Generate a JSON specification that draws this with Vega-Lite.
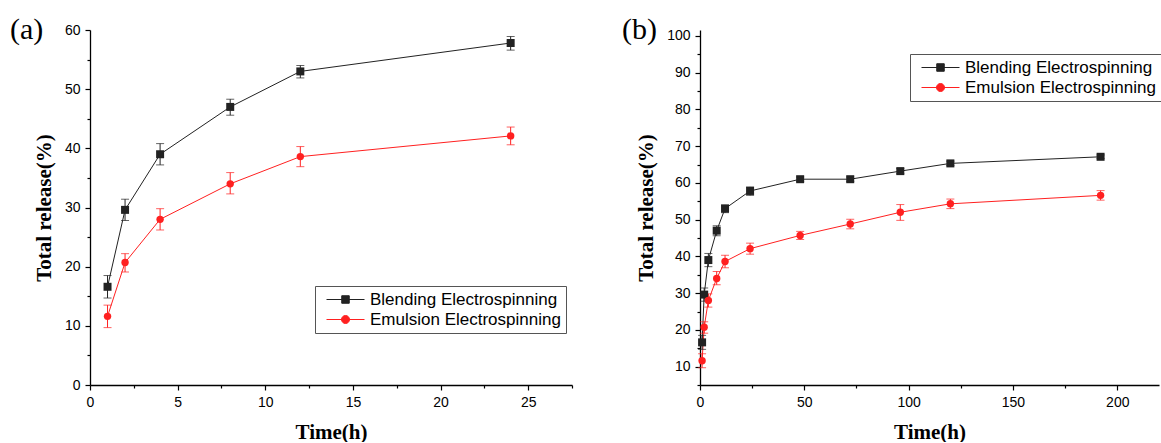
{
  "$schema": "https://vega.github.io/schema/vega-lite/v6.json",
  "padding": {"left": 10, "top": 14, "right": 0, "bottom": 0},
  "background": "white",
  "columns": 2,
  "align": "none",
  "spacing": 49,
  "datasets": {
    "a": [
      {"t": 1, "release": 16.6, "lo": 14.7, "hi": 18.5, "series": "Blending Electrospinning"},
      {"t": 2, "release": 29.6, "lo": 27.8, "hi": 31.4, "series": "Blending Electrospinning"},
      {"t": 4, "release": 39.0, "lo": 37.2, "hi": 40.8, "series": "Blending Electrospinning"},
      {"t": 8, "release": 47.0, "lo": 45.6, "hi": 48.3, "series": "Blending Electrospinning"},
      {"t": 12, "release": 53.0, "lo": 51.9, "hi": 54.0, "series": "Blending Electrospinning"},
      {"t": 24, "release": 57.8, "lo": 56.6, "hi": 58.9, "series": "Blending Electrospinning"},
      {"t": 1, "release": 11.6, "lo": 9.7, "hi": 13.5, "series": "Emulsion Electrospinning"},
      {"t": 2, "release": 20.7, "lo": 19.1, "hi": 22.2, "series": "Emulsion Electrospinning"},
      {"t": 4, "release": 28.0, "lo": 26.2, "hi": 29.8, "series": "Emulsion Electrospinning"},
      {"t": 8, "release": 34.0, "lo": 32.3, "hi": 35.9, "series": "Emulsion Electrospinning"},
      {"t": 12, "release": 38.6, "lo": 36.9, "hi": 40.3, "series": "Emulsion Electrospinning"},
      {"t": 24, "release": 42.1, "lo": 40.6, "hi": 43.6, "series": "Emulsion Electrospinning"}
    ],
    "b": [
      {"t": 1, "release": 16.6, "lo": 14.7, "hi": 18.5, "series": "Blending Electrospinning"},
      {"t": 2, "release": 29.6, "lo": 27.8, "hi": 31.4, "series": "Blending Electrospinning"},
      {"t": 4, "release": 39.0, "lo": 37.2, "hi": 40.8, "series": "Blending Electrospinning"},
      {"t": 8, "release": 47.0, "lo": 45.6, "hi": 48.3, "series": "Blending Electrospinning"},
      {"t": 12, "release": 53.0, "lo": 51.9, "hi": 54.0, "series": "Blending Electrospinning"},
      {"t": 24, "release": 57.8, "lo": 56.6, "hi": 58.9, "series": "Blending Electrospinning"},
      {"t": 48, "release": 61.0, "lo": 60.4, "hi": 61.6, "series": "Blending Electrospinning"},
      {"t": 72, "release": 61.0, "lo": 60.4, "hi": 61.6, "series": "Blending Electrospinning"},
      {"t": 96, "release": 63.2, "lo": 62.5, "hi": 63.9, "series": "Blending Electrospinning"},
      {"t": 120, "release": 65.3, "lo": 64.7, "hi": 65.9, "series": "Blending Electrospinning"},
      {"t": 192, "release": 67.1, "lo": 66.6, "hi": 67.6, "series": "Blending Electrospinning"},
      {"t": 1, "release": 11.6, "lo": 9.7, "hi": 13.5, "series": "Emulsion Electrospinning"},
      {"t": 2, "release": 20.7, "lo": 19.1, "hi": 22.2, "series": "Emulsion Electrospinning"},
      {"t": 4, "release": 28.0, "lo": 26.2, "hi": 29.8, "series": "Emulsion Electrospinning"},
      {"t": 8, "release": 34.0, "lo": 32.3, "hi": 35.9, "series": "Emulsion Electrospinning"},
      {"t": 12, "release": 38.6, "lo": 36.9, "hi": 40.3, "series": "Emulsion Electrospinning"},
      {"t": 24, "release": 42.1, "lo": 40.6, "hi": 43.6, "series": "Emulsion Electrospinning"},
      {"t": 48, "release": 45.7, "lo": 44.6, "hi": 46.8, "series": "Emulsion Electrospinning"},
      {"t": 72, "release": 48.8, "lo": 47.5, "hi": 50.1, "series": "Emulsion Electrospinning"},
      {"t": 96, "release": 52.0, "lo": 49.8, "hi": 54.1, "series": "Emulsion Electrospinning"},
      {"t": 120, "release": 54.3, "lo": 53.0, "hi": 55.6, "series": "Emulsion Electrospinning"},
      {"t": 192, "release": 56.6, "lo": 55.3, "hi": 57.9, "series": "Emulsion Electrospinning"}
    ]
  },
  "concat": [
    {
      "data": {"name": "a"},
      "width": 482,
      "height": 355,
      "title": {"text": "(a)", "anchor": "start", "frame": "group", "dx": -80, "offset": -46, "baseline": "alphabetic"},
      "encoding": {
        "x": {
          "field": "t", "type": "quantitative", "title": "Time(h)",
          "scale": {"domain": [0, 27.5], "nice": false, "zero": false},
          "axis": {
            "values": [0, 2.5, 5, 7.5, 10, 12.5, 15, 17.5, 20, 22.5, 25, 27.5],
            "labelExpr": "datum.value % 5 === 0 ? datum.label : ''",
            "tickSize": {"condition": {"test": "datum.value % 5 !== 0", "value": 3}, "value": 5}
          }
        },
        "y": {
          "field": "release", "type": "quantitative", "title": "Total release(%)",
          "scale": {"domain": [0, 60], "nice": false, "zero": false},
          "axis": {
            "values": [0, 5, 10, 15, 20, 25, 30, 35, 40, 45, 50, 55, 60],
            "labelExpr": "datum.value % 10 === 0 ? datum.label : ''",
            "tickSize": {"condition": {"test": "datum.value % 10 !== 0", "value": 3}, "value": 5}
          }
        }
      },
      "layer": [
        {
          "mark": {"type": "line", "strokeWidth": 1},
          "encoding": {
            "color": {
              "field": "series", "type": "nominal",
              "scale": {"domain": ["Blending Electrospinning", "Emulsion Electrospinning"], "range": ["#222222", "#ff2020"]},
              "legend": {
                "orient": "none", "legendX": 225, "legendY": 256,
                "encode": {"symbols": {"update": {
                  "shape": {"signal": "datum.value === 'Blending Electrospinning' ? 'M-0.25,0H4.5M1.655,-0.47H2.595V0.47H1.655Z' : 'M-0.25,0H4.5M2.625,0A0.5,0.5,0,1,1,1.625,0A0.5,0.5,0,1,1,2.625,0Z'"},
                  "fill": {"signal": "datum.value === 'Blending Electrospinning' ? '#000000' : '#ff0000'"},
                  "stroke": {"signal": "datum.value === 'Blending Electrospinning' ? '#000000' : '#ff0000'"},
                  "strokeWidth": {"value": 1},
                  "opacity": {"value": 1},
                  "size": {"value": 256}
                }}}
              }
            }
          }
        },
        {
          "mark": {"type": "errorbar", "ticks": {"size": 8}, "thickness": 1},
          "encoding": {
            "y": {"field": "lo", "type": "quantitative", "title": "Total release(%)"},
            "y2": {"field": "hi"},
            "color": {"field": "series", "type": "nominal"}
          }
        },
        {
          "transform": [{"filter": {"field": "series", "equal": "Blending Electrospinning"}}],
          "mark": {"type": "square", "size": 64, "opacity": 1, "filled": true},
          "encoding": {
            "color": {"field": "series", "type": "nominal"}
          }
        },
        {
          "transform": [{"filter": {"field": "series", "equal": "Emulsion Electrospinning"}}],
          "mark": {"type": "circle", "size": 55, "opacity": 1},
          "encoding": {
            "color": {"field": "series", "type": "nominal"}
          }
        }
      ]
    },
    {
      "data": {"name": "b"},
      "width": 459,
      "height": 355,
      "title": {"text": "(b)", "anchor": "start", "frame": "group", "dx": -78, "offset": -40, "baseline": "alphabetic"},
      "encoding": {
        "x": {
          "field": "t", "type": "quantitative", "title": "Time(h)",
          "scale": {"domain": [0, 220], "nice": false, "zero": false},
          "axis": {
            "values": [0, 25, 50, 75, 100, 125, 150, 175, 200],
            "labelExpr": "datum.value % 50 === 0 ? datum.label : ''",
            "tickSize": {"condition": {"test": "datum.value % 50 !== 0", "value": 3}, "value": 5}
          }
        },
        "y": {
          "field": "release", "type": "quantitative", "title": "Total release(%)",
          "scale": {"domain": [5, 101.6], "nice": false, "zero": false},
          "axis": {
            "values": [5, 10, 15, 20, 25, 30, 35, 40, 45, 50, 55, 60, 65, 70, 75, 80, 85, 90, 95, 100],
            "labelExpr": "datum.value % 10 === 0 ? datum.label : ''",
            "tickSize": {"condition": {"test": "datum.value % 10 !== 0", "value": 3}, "value": 5}
          }
        }
      },
      "layer": [
        {
          "mark": {"type": "line", "strokeWidth": 1},
          "encoding": {
            "color": {
              "field": "series", "type": "nominal",
              "scale": {"domain": ["Blending Electrospinning", "Emulsion Electrospinning"], "range": ["#222222", "#ff2020"]},
              "legend": {
                "orient": "none", "legendX": 210, "legendY": 24,
                "encode": {"symbols": {"update": {
                  "shape": {"signal": "datum.value === 'Blending Electrospinning' ? 'M-0.25,0H4.5M1.655,-0.47H2.595V0.47H1.655Z' : 'M-0.25,0H4.5M2.625,0A0.5,0.5,0,1,1,1.625,0A0.5,0.5,0,1,1,2.625,0Z'"},
                  "fill": {"signal": "datum.value === 'Blending Electrospinning' ? '#000000' : '#ff0000'"},
                  "stroke": {"signal": "datum.value === 'Blending Electrospinning' ? '#000000' : '#ff0000'"},
                  "strokeWidth": {"value": 1},
                  "opacity": {"value": 1},
                  "size": {"value": 256}
                }}}
              }
            }
          }
        },
        {
          "mark": {"type": "errorbar", "ticks": {"size": 8}, "thickness": 1},
          "encoding": {
            "y": {"field": "lo", "type": "quantitative", "title": "Total release(%)"},
            "y2": {"field": "hi"},
            "color": {"field": "series", "type": "nominal"}
          }
        },
        {
          "transform": [{"filter": {"field": "series", "equal": "Blending Electrospinning"}}],
          "mark": {"type": "square", "size": 64, "opacity": 1, "filled": true},
          "encoding": {
            "color": {"field": "series", "type": "nominal"}
          }
        },
        {
          "transform": [{"filter": {"field": "series", "equal": "Emulsion Electrospinning"}}],
          "mark": {"type": "circle", "size": 55, "opacity": 1},
          "encoding": {
            "color": {"field": "series", "type": "nominal"}
          }
        }
      ]
    }
  ],
  "resolve": {
    "scale": {"color": "independent"}
  },
  "config": {
    "view": {"stroke": null},
    "axis": {
      "grid": false,
      "domainColor": "#000000",
      "domainWidth": 1.3,
      "tickColor": "#000000",
      "tickWidth": 1.2,
      "labelFont": "Liberation Sans",
      "labelFontSize": 14,
      "labelColor": "#000000",
      "labelPadding": 5,
      "labelFlush": false,
      "labelOverlap": false,
      "titleFont": "Liberation Serif",
      "titleFontSize": 21,
      "titleFontWeight": "bold",
      "titleColor": "#000000"
    },
    "axisX": {"titlePadding": 12},
    "axisY": {"titlePadding": 10},
    "legend": {
      "title": null,
      "labelFont": "Liberation Sans",
      "labelFontSize": 17,
      "labelColor": "#000000",
      "labelLimit": 400,
      "labelOffset": 33,
      "symbolSize": 256,
      "strokeColor": "#555555",
      "fillColor": "#ffffff",
      "padding": 5,
      "rowPadding": 2
    },
    "title": {"font": "Liberation Serif", "fontSize": 30, "fontWeight": "normal", "color": "#000000"}
  }
}
